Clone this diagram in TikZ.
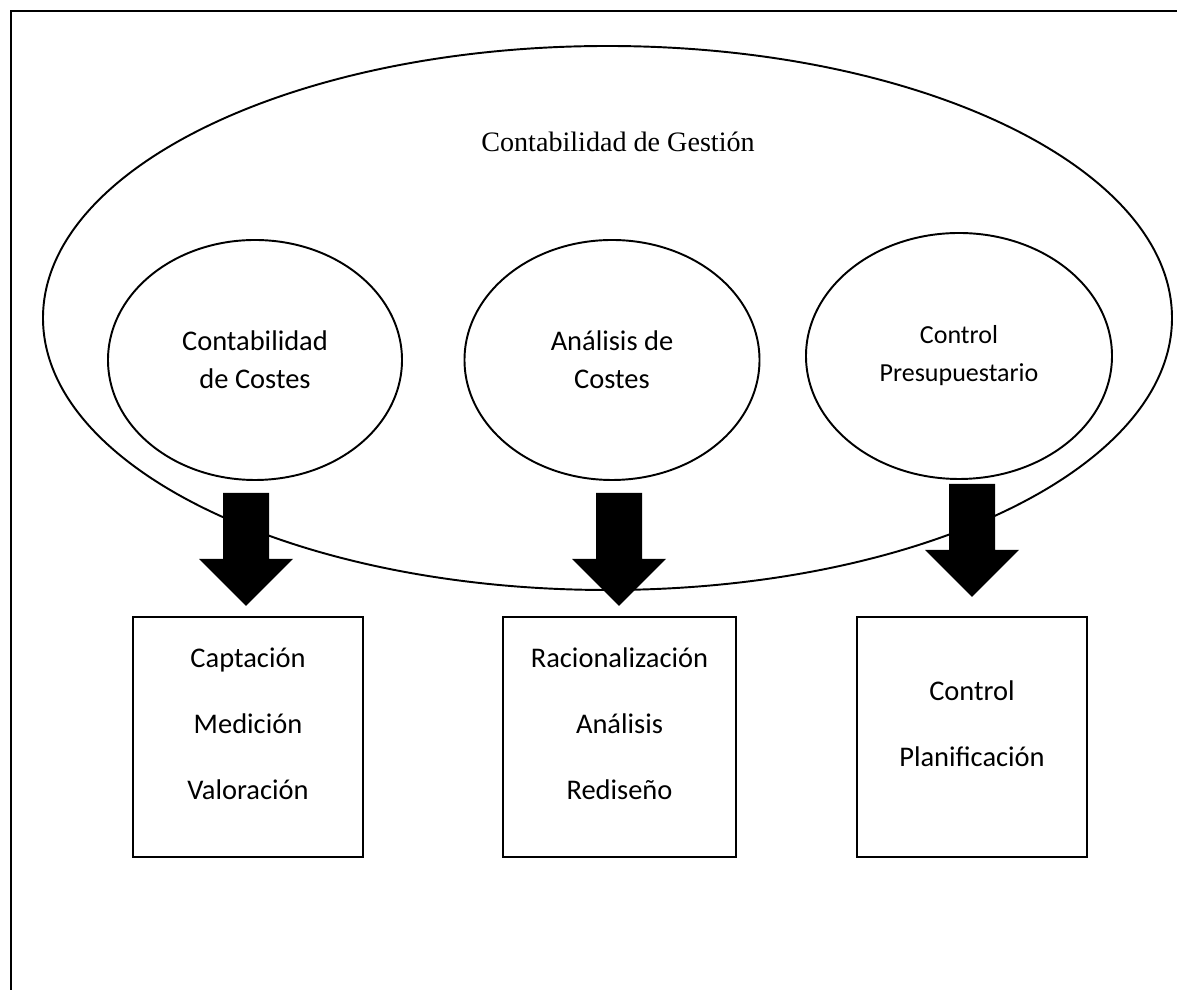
\documentclass[tikz,border=0pt]{standalone}
\usepackage{fontspec}
\setmainfont{Liberation Serif}
\setsansfont{Carlito}
\usepackage{tikz}
\usetikzlibrary{calc}
\usetikzlibrary{shapes.geometric}
\newcommand\fatarrow[2]{
  \coordinate (a) at ( #1, #2 );
  \fill (a) ++(-0.46,0) -- ($ (a) + (-0.46,-1.32) $) -- ($ (a) + (-0.94,-1.32) $) -- ($ (a) + (0,-2.26) $)
    -- ($ (a) + (0.94,-1.32) $) -- ($ (a) + (0.46,-1.32) $) -- ($ (a) + (0.46,0) $) -- cycle;
}
\tikzset{
  bubble/.style={ellipse,draw,line width=1.1pt,inner sep=0pt,align=center,
    font=\sffamily\fontsize{16.2}{21.6}\selectfont},
  task/.style={rectangle,draw,line width=1.3pt,minimum width=4.6cm,minimum height=4.8cm},
  tasktext/.style={align=center,font=\sffamily\fontsize{16.2}{37.5}\selectfont}
}
\begin{document}
\begin{tikzpicture}
      \useasboundingbox (0,0) rectangle (23.54,19.8);
      \draw[line width=1.6pt] (0.22,0) -- (0.22,19.58) -- (23.54,19.58);

      \node[bubble,minimum width=22.58cm,minimum height=10.88cm] (gestion) at (12.15,13.44) {};
      \node[anchor=base,font=\fontsize{16}{19}\selectfont] (titulo) at (12.36,16.76) {Contabilidad de Gestión};

      \node[bubble,minimum width=5.88cm,minimum height=4.8cm] (costes) at (5.1,12.6) {Contabilidad\\de Costes};
      \node[bubble,minimum width=5.9cm,minimum height=4.8cm] (analisis) at (12.24,12.6) {Análisis de\\Costes};
      \node[bubble,minimum width=6.12cm,minimum height=4.92cm,font=\sffamily\fontsize{14.8}{21.6}\selectfont] (presup) at (19.18,12.68) {Control\\Presupuestario};

      \fatarrow{4.92}{9.94}
      \fatarrow{12.38}{9.94}
      \fatarrow{19.44}{10.12}

      \node[task] (captar) at (4.96,5.06) {};
      \node[task,minimum width=4.66cm] (racional) at (12.39,5.06) {};
      \node[task] (controlar) at (19.44,5.06) {};

      \node[tasktext] (captartxt) at ($ (captar) + (0,0.26) $) {Captación\\Medición\\Valoración};
      \node[tasktext] (racionaltxt) at ($ (racional) + (0,0.26) $) {Racionalización\\Análisis\\Rediseño};
      \node[tasktext] (controlartxt) at ($ (controlar) + (0,0.26) $) {Control\\Planificación};

    \end{tikzpicture}
\end{document}
